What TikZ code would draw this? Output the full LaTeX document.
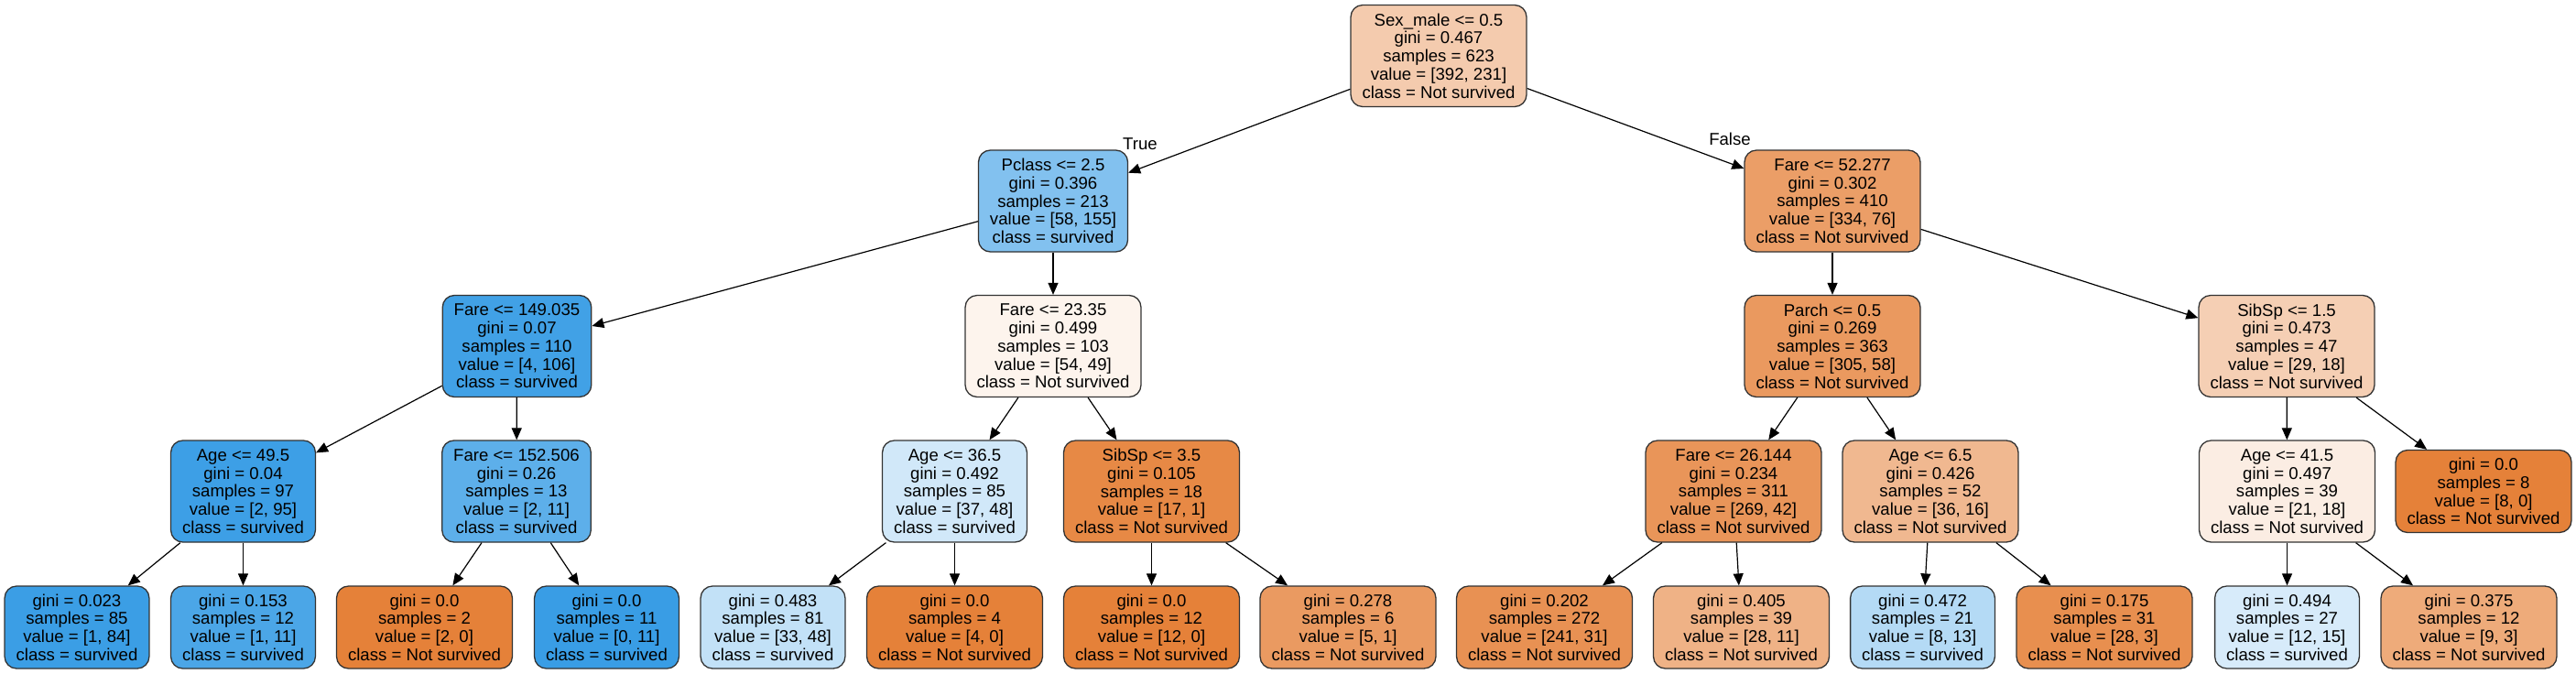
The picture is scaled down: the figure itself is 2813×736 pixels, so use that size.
\documentclass[tikz,border=0pt]{standalone}
\usepackage{fontspec}
\setmainfont{Liberation Sans}
\usetikzlibrary{arrows.meta}
\definecolor{clsA}{RGB}{229,129,57}
\definecolor{clsB}{RGB}{57,157,229}
\tikzset{
  tnode/.style={draw=black!80, line width=1.3pt, rounded corners=13pt, align=center,
    inner xsep=12.5pt, inner ysep=0pt, minimum height=111pt},
  leafnode/.style={tnode, minimum height=90pt},
  arr/.style={-{Triangle[length=13pt,width=11pt]}, line width=1.2pt, draw=black},
  elabel/.style={inner sep=0pt}
}
\begin{document}
\begin{tikzpicture}[x=1pt,y=-1pt,font=\fontsize{18.6}{19.75}\selectfont]
\fill[white] (0,0) rectangle (2813,736);
\useasboundingbox (0,0) rectangle (2813,736);
% level 0
\node[tnode, fill=clsA!41!white] (n0) at (1571,61) {Sex\_male <= 0.5\\gini = 0.467\\samples = 623\\value = [392, 231]\\class = Not survived};
% level 1
\node[tnode, fill=clsB!63!white] (n1) at (1150,219.5) {Pclass <= 2.5\\gini = 0.396\\samples = 213\\value = [58, 155]\\class = survived};
\node[tnode, fill=clsA!77!white] (n2) at (2001,219.5) {Fare <= 52.277\\gini = 0.302\\samples = 410\\value = [334, 76]\\class = Not survived};
% level 2
\node[tnode, fill=clsB!96!white] (n3) at (564.5,378) {Fare <= 149.035\\gini = 0.07\\samples = 110\\value = [4, 106]\\class = survived};
\node[tnode, fill=clsA!9!white] (n4) at (1150,378) {Fare <= 23.35\\gini = 0.499\\samples = 103\\value = [54, 49]\\class = Not survived};
\node[tnode, fill=clsA!81!white] (n5) at (2001,378) {Parch <= 0.5\\gini = 0.269\\samples = 363\\value = [305, 58]\\class = Not survived};
\node[tnode, fill=clsA!38!white] (n6) at (2497,378) {SibSp <= 1.5\\gini = 0.473\\samples = 47\\value = [29, 18]\\class = Not survived};
% level 3
\node[tnode, fill=clsB!98!white] (n7) at (265.5,536.5) {Age <= 49.5\\gini = 0.04\\samples = 97\\value = [2, 95]\\class = survived};
\node[tnode, fill=clsB!82!white] (n8) at (564,536.5) {Fare <= 152.506\\gini = 0.26\\samples = 13\\value = [2, 11]\\class = survived};
\node[tnode, fill=clsB!23!white] (n9) at (1042.5,536.5) {Age <= 36.5\\gini = 0.492\\samples = 85\\value = [37, 48]\\class = survived};
\node[tnode, fill=clsA!94!white] (n10) at (1257.5,536.5) {SibSp <= 3.5\\gini = 0.105\\samples = 18\\value = [17, 1]\\class = Not survived};
\node[tnode, fill=clsA!84!white] (n11) at (1893,536.5) {Fare <= 26.144\\gini = 0.234\\samples = 311\\value = [269, 42]\\class = Not survived};
\node[tnode, fill=clsA!56!white] (n12) at (2108,536.5) {Age <= 6.5\\gini = 0.426\\samples = 52\\value = [36, 16]\\class = Not survived};
\node[tnode, fill=clsA!14!white] (n13) at (2497.5,536.5) {Age <= 41.5\\gini = 0.497\\samples = 39\\value = [21, 18]\\class = Not survived};
\node[leafnode, fill=clsA] (n14) at (2712,536.5) {gini = 0.0\\samples = 8\\value = [8, 0]\\class = Not survived};
% level 4
\node[leafnode, fill=clsB!99!white] (l1) at (84,685) {gini = 0.023\\samples = 85\\value = [1, 84]\\class = survived};
\node[leafnode, fill=clsB!91!white] (l2) at (265.5,685) {gini = 0.153\\samples = 12\\value = [1, 11]\\class = survived};
\node[leafnode, fill=clsA] (l3) at (463.5,685) {gini = 0.0\\samples = 2\\value = [2, 0]\\class = Not survived};
\node[leafnode, fill=clsB] (l4) at (662.5,685) {gini = 0.0\\samples = 11\\value = [0, 11]\\class = survived};
\node[leafnode, fill=clsB!31!white] (l5) at (844,685) {gini = 0.483\\samples = 81\\value = [33, 48]\\class = survived};
\node[leafnode, fill=clsA] (l6) at (1042.5,685) {gini = 0.0\\samples = 4\\value = [4, 0]\\class = Not survived};
\node[leafnode, fill=clsA] (l7) at (1257.5,685) {gini = 0.0\\samples = 12\\value = [12, 0]\\class = Not survived};
\node[leafnode, fill=clsA!80!white] (l8) at (1472,685) {gini = 0.278\\samples = 6\\value = [5, 1]\\class = Not survived};
\node[leafnode, fill=clsA!87!white] (l9) at (1686.5,685) {gini = 0.202\\samples = 272\\value = [241, 31]\\class = Not survived};
\node[leafnode, fill=clsA!61!white] (l10) at (1901.5,685) {gini = 0.405\\samples = 39\\value = [28, 11]\\class = Not survived};
\node[leafnode, fill=clsB!38!white] (l11) at (2099.5,685) {gini = 0.472\\samples = 21\\value = [8, 13]\\class = survived};
\node[leafnode, fill=clsA!89!white] (l12) at (2298,685) {gini = 0.175\\samples = 31\\value = [28, 3]\\class = Not survived};
\node[leafnode, fill=clsB!20!white] (l13) at (2497.5,685) {gini = 0.494\\samples = 27\\value = [12, 15]\\class = survived};
\node[leafnode, fill=clsA!67!white] (l14) at (2696,685) {gini = 0.375\\samples = 12\\value = [9, 3]\\class = Not survived};
% edge labels
\node[elabel] (tl) at (1245,157) {True};
\node[elabel] (fl) at (1889,152) {False};
% edges
\draw[arr] (n0) -- (n1);
\draw[arr] (n0) -- (n2);
\draw[arr] (n1) -- (n3);
\draw[arr] (n1) -- (n4);
\draw[arr] (n2) -- (n5);
\draw[arr] (n2) -- (n6);
\draw[arr] (n3) -- (n7);
\draw[arr] (n3) -- (n8);
\draw[arr] (n4) -- (n9);
\draw[arr] (n4) -- (n10);
\draw[arr] (n5) -- (n11);
\draw[arr] (n5) -- (n12);
\draw[arr] (n6) -- (n13);
\draw[arr] (n6) -- (n14);
\draw[arr] (n7) -- (l1);
\draw[arr] (n7) -- (l2);
\draw[arr] (n8) -- (l3);
\draw[arr] (n8) -- (l4);
\draw[arr] (n9) -- (l5);
\draw[arr] (n9) -- (l6);
\draw[arr] (n10) -- (l7);
\draw[arr] (n10) -- (l8);
\draw[arr] (n11) -- (l9);
\draw[arr] (n11) -- (l10);
\draw[arr] (n12) -- (l11);
\draw[arr] (n12) -- (l12);
\draw[arr] (n13) -- (l13);
\draw[arr] (n13) -- (l14);
\end{tikzpicture}
\end{document}
